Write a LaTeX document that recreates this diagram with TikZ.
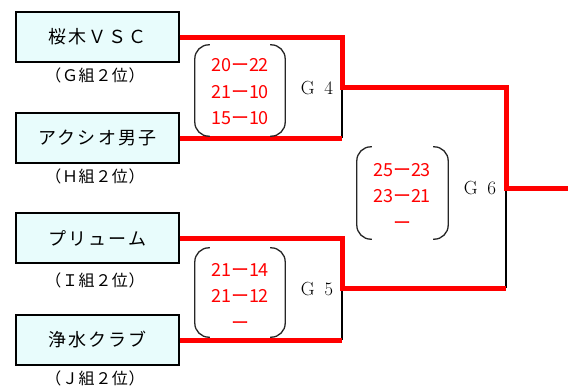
\documentclass[tikz,border=0pt]{standalone}
\usepackage{fontspec}
\newfontfamily\jpfont[LetterSpace=12]{Noto Sans CJK JP}
\newfontfamily\jplab[LetterSpace=4]{Noto Sans CJK JP}
\newfontfamily\jpnum{Noto Sans CJK JP}
\definecolor{boxfill}{RGB}{232,252,252}
\begin{document}
\begin{tikzpicture}[x=1pt,y=-1pt,
 team/.style={draw=black,line width=1.3pt,fill=boxfill,minimum width=163pt,minimum height=50pt,inner sep=0pt,font=\fontsize{18}{18}\jpfont},
 rank/.style={font=\fontsize{16}{16}\jplab,inner sep=0pt},
 score/.style={text=red,align=center,font=\fontsize{18}{26.5}\jpnum,inner sep=0pt},
 frame/.style={minimum width=90pt,inner sep=0pt},
 paren/.style={draw=black!85,line width=1.3pt,rounded corners=14pt},
 win/.style={draw=red,line width=5pt},
 lose/.style={draw=black,line width=1.3pt},
 game/.style={font=\fontsize{19}{19}\selectfont,inner sep=0pt}]
\useasboundingbox (0,0) rectangle (568,389);
% teams
\node[team] (b1) at (97.5,37) {桜木ＶＳＣ};
\node[rank] (r1) at (95,75) {（Ｇ組２位）};
\node[team] (b2) at (97.5,138) {アクシオ男子};
\node[rank] (r2) at (95,176) {（Ｈ組２位）};
\node[team] (b3) at (97.5,238) {プリューム};
\node[rank] (r3) at (95,280) {（Ｉ組２位）};
\node[team] (b4) at (97.5,340) {浄水クラブ};
\node[rank] (r4) at (95,378) {（Ｊ組２位）};
% junctions
\coordinate (j4) at (342,87);
\coordinate (j5) at (342,288);
\coordinate (j6) at (506,188);
\coordinate (out) at (568,188);
% losing lines
\draw[lose] (j4) -- (b2.east -| j4);
\draw[lose] (j5) -- (b4.east -| j5);
\draw[lose] (j5 -| j6) -- (j6);
% winning lines
\draw[win] (b1.east) -| (j4) -| (j6) -- (out);
\draw[win] (b2.east) -- (b2.east -| j4);
\draw[win] (b3.east) -| (j5) -- (j5 -| j6);
\draw[win] (b4.east) -- (b4.east -| j5);
% scores
\node[frame,minimum height=91pt] (p4) at (240,90.5) {};
\node[score] (s4) at (240,92) {20ー22\\21ー10\\15ー10};
\node[frame,minimum height=89pt] (p5) at (240,292.5) {};
\node[score] (s5) at (240,296) {21ー14\\21ー12\\ー};
\node[frame,minimum height=92pt,minimum width=91pt] (p6) at (402.5,193) {};
\node[score] (s6) at (402,196) {25ー23\\23ー21\\ー};
\foreach \p in {p4,p5,p6}{
 \draw[paren] ([xshift=15pt]\p.north west) -- (\p.north west) -- (\p.south west) -- ([xshift=15pt]\p.south west);
 \draw[paren] ([xshift=-15pt]\p.north east) -- (\p.north east) -- (\p.south east) -- ([xshift=-15pt]\p.south east);
}
\node[game] (g4) at (317,88) {G\enspace4};
\node[game] (g5) at (317,289) {G\enspace5};
\node[game] (g6) at (480,188) {G\enspace6};
\end{tikzpicture}
\end{document}
